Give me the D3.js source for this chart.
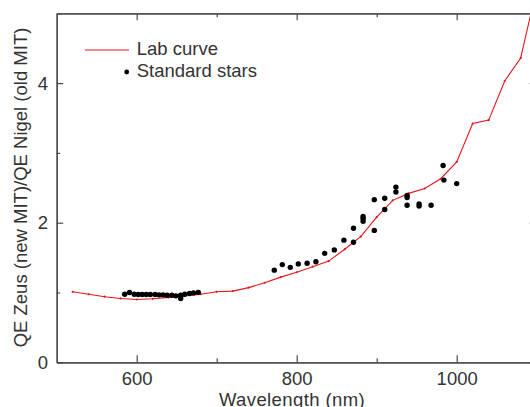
<!DOCTYPE html>
<html>
<head>
<meta charset="utf-8">
<script src="https://cdn.jsdelivr.net/npm/d3@7"></script>
<style>
  html, body { margin: 0; padding: 0; background: #fff; }
  svg { display: block; }
  text { font-family: "Liberation Sans", Arial, Helvetica, sans-serif; }
</style>
</head>
<body>
<svg id="chart" width="530" height="407"></svg>
<script>
// Lab curve (wavelength nm, ratio)
const labWavelength = [520, 540, 560, 580, 600, 620, 640, 660, 680, 700, 720, 740, 760, 780, 800, 820, 840, 860, 880, 900, 920, 940, 960, 980, 1000, 1020, 1040, 1060, 1080, 1100];
const labRatio      = [1.01, 0.975, 0.94, 0.915, 0.90, 0.91, 0.93, 0.95, 0.975, 1.01, 1.02, 1.07, 1.14, 1.22, 1.29, 1.37, 1.45, 1.62, 1.80, 2.08, 2.32, 2.42, 2.49, 2.63, 2.87, 3.42, 3.47, 4.03, 4.36, 5.36];

// Standard stars
const starWavelength = [585, 591, 597, 602, 607, 612, 617, 623, 628, 633, 638, 644, 649, 655, 655, 660, 666, 671, 677,
  772, 782, 792, 802, 813, 824, 835, 847, 859, 871, 871, 883, 883, 883, 897, 897, 910, 910, 924, 924, 938, 938, 938, 953, 953, 968, 983, 984, 1000];
const starRatio = [0.976, 1.00, 0.976, 0.971, 0.971, 0.971, 0.971, 0.971, 0.966, 0.966, 0.961, 0.961, 0.952, 0.961, 0.914, 0.976, 0.986, 0.994, 1.00,
  1.32, 1.40, 1.36, 1.41, 1.42, 1.44, 1.56, 1.61, 1.75, 1.92, 1.72, 2.09, 2.06, 2.02, 1.89, 2.33, 2.35, 2.19, 2.51, 2.44, 2.39, 2.36, 2.25, 2.27, 2.24, 2.25, 2.82, 2.61, 2.56];

const xMajorTicks = [600, 800, 1000];
const xMinorTicks = [700, 900, 1100];
const yMajorTicks = [0, 2, 4];
const yMinorTicks = [1, 3, 5];

const xLabel = "Wavelength (nm)";
const yLabel = "QE Zeus (new MIT)/QE Nigel (old MIT)";
const legendLabels = ["Lab curve", "Standard stars"];

(function () {
const labData = labWavelength.map((w, i) => ({ w, r: labRatio[i] }));
const starData = starWavelength.map((w, i) => ({ w, r: starRatio[i] }));

const pL = 56.7, pR = 536.7, pT = 13.3, pB = 362.3;
const x = d3.scaleLinear().domain([500, 1100]).range([pL, pR]);
const y = d3.scaleLinear().domain([0, 5]).range([pB, pT]);

const svg = d3.select("#chart");
const axisColor = "#4a4a4a";
const textColor = "#333";
const red = "#e8141c";
const fs = 18.5;

svg.append("defs").append("clipPath").attr("id", "plotclip")
  .append("rect").attr("x", pL).attr("y", pT).attr("width", pR - pL).attr("height", pB - pT);

function styleAxis(g) {
  g.selectAll(".domain").attr("stroke", axisColor).attr("stroke-width", 1.3);
  g.selectAll(".tick line").attr("stroke", axisColor).attr("stroke-width", 1.2);
  g.selectAll(".tick text").attr("fill", textColor).style("font-size", fs + "px")
    .style("font-family", '"Liberation Sans", Arial, sans-serif');
}

// bottom
svg.append("g").attr("transform", `translate(0,${pB})`)
  .call(d3.axisBottom(x).tickValues(xMajorTicks).tickSizeInner(-7).tickSizeOuter(0).tickPadding(9.7).tickFormat(d3.format("d")))
  .call(styleAxis);
svg.append("g").attr("transform", `translate(0,${pB})`)
  .call(d3.axisBottom(x).tickValues(xMinorTicks).tickSizeInner(-4).tickSizeOuter(0).tickFormat(""))
  .call(styleAxis);
// top
svg.append("g").attr("transform", `translate(0,${pT})`)
  .call(d3.axisTop(x).tickValues(xMajorTicks).tickSizeInner(-7).tickSizeOuter(0).tickFormat(""))
  .call(styleAxis);
svg.append("g").attr("transform", `translate(0,${pT})`)
  .call(d3.axisTop(x).tickValues(xMinorTicks).tickSizeInner(-4).tickSizeOuter(0).tickFormat(""))
  .call(styleAxis);
// left
svg.append("g").attr("transform", `translate(${pL},0)`)
  .call(d3.axisLeft(y).tickValues(yMajorTicks).tickSizeInner(-6.5).tickSizeOuter(0).tickPadding(8.7).tickFormat(d3.format("d")))
  .call(styleAxis);
svg.append("g").attr("transform", `translate(${pL},0)`)
  .call(d3.axisLeft(y).tickValues(yMinorTicks).tickSizeInner(-3.5).tickSizeOuter(0).tickFormat(""))
  .call(styleAxis);
// right
svg.append("g").attr("transform", `translate(${pR},0)`)
  .call(d3.axisRight(y).tickValues(yMajorTicks).tickSizeInner(-7).tickSizeOuter(0).tickFormat(""))
  .call(styleAxis);
svg.append("g").attr("transform", `translate(${pR},0)`)
  .call(d3.axisRight(y).tickValues(yMinorTicks).tickSizeInner(-4).tickSizeOuter(0).tickFormat(""))
  .call(styleAxis);

// lab curve
const plot = svg.append("g").attr("clip-path", "url(#plotclip)");
plot.append("path").datum(labData)
  .attr("fill", "none").attr("stroke", red).attr("stroke-width", 1.1)
  .attr("d", d3.line().x(d => x(d.w)).y(d => y(d.r)));
plot.selectAll("circle.lab").data(labData).join("circle").attr("class", "lab")
  .attr("cx", d => x(d.w)).attr("cy", d => y(d.r)).attr("r", 1.1).attr("fill", red);

// stars
plot.selectAll("circle.star").data(starData).join("circle").attr("class", "star")
  .attr("cx", d => x(d.w)).attr("cy", d => y(d.r)).attr("r", 2.7).attr("fill", "#000");

// legend
svg.append("line").attr("x1", 85).attr("x2", 129).attr("y1", 50).attr("y2", 50)
  .attr("stroke", red).attr("stroke-width", 1.1);
svg.append("circle").attr("cx", 126.7).attr("cy", 72).attr("r", 2.4).attr("fill", "#000");
svg.append("text").attr("x", 136.7).attr("y", 55).attr("fill", textColor)
  .style("font-size", fs + "px").text(legendLabels[0]);
svg.append("text").attr("x", 136.7).attr("y", 77.3).attr("fill", textColor)
  .style("font-size", fs + "px").text(legendLabels[1]);

// axis labels
svg.append("text").attr("x", 292).attr("y", 406).attr("text-anchor", "middle")
  .attr("fill", textColor).style("font-size", fs + "px").style("letter-spacing", "0.4px").text(xLabel);
svg.append("text").attr("transform", "translate(26.7,187.5) rotate(-90)").attr("text-anchor", "middle")
  .attr("fill", textColor).style("font-size", fs + "px").text(yLabel);
})();
</script>
</body>
</html>
